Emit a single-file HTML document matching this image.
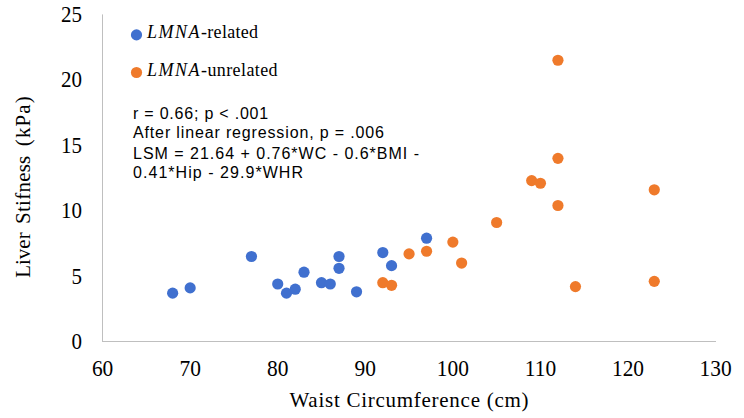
<!DOCTYPE html>
<html><head><meta charset="utf-8"><style>
html,body{margin:0;padding:0;background:#fff;}
svg{display:block;}
.serif{font-family:"Liberation Serif",serif;}
.sans{font-family:"Liberation Sans",sans-serif;}
</style></head><body>
<svg width="744" height="418" viewBox="0 0 744 418">
<rect width="744" height="418" fill="#fff"/>
<line x1="102.5" y1="14.4" x2="102.5" y2="342" stroke="#BFBFBF" stroke-width="1"/>
<line x1="102" y1="341.5" x2="716" y2="341.5" stroke="#BFBFBF" stroke-width="1"/>
<g class="serif" font-size="21" fill="#000">
<text transform="translate(82,349.15) scale(1,1.07)" text-anchor="end">0</text><text transform="translate(82,283.73) scale(1,1.07)" text-anchor="end">5</text><text transform="translate(82,218.31) scale(1,1.07)" text-anchor="end">10</text><text transform="translate(82,152.89) scale(1,1.07)" text-anchor="end">15</text><text transform="translate(82,87.47) scale(1,1.07)" text-anchor="end">20</text><text transform="translate(82,22.05) scale(1,1.07)" text-anchor="end">25</text>
<text transform="translate(102.58,375.9) scale(1.02,1.07)" text-anchor="middle">60</text><text transform="translate(190.15,375.9) scale(1.02,1.07)" text-anchor="middle">70</text><text transform="translate(277.72,375.9) scale(1.02,1.07)" text-anchor="middle">80</text><text transform="translate(365.29,375.9) scale(1.02,1.07)" text-anchor="middle">90</text><text transform="translate(452.86,375.9) scale(1.02,1.07)" text-anchor="middle">100</text><text transform="translate(540.43,375.9) scale(1.02,1.07)" text-anchor="middle">110</text><text transform="translate(628.00,375.9) scale(1.02,1.07)" text-anchor="middle">120</text><text transform="translate(715.57,375.9) scale(1.02,1.07)" text-anchor="middle">130</text>
</g>
<text class="serif" font-size="21" x="409" y="407.2" text-anchor="middle" textLength="239" lengthAdjust="spacing">Waist Circumference (cm)</text>
<g class="serif" font-size="21" transform="translate(29.5,0) rotate(-90)">
<text x="-277.8">Liver</text>
<text x="-223.9" textLength="68.2" lengthAdjust="spacing">Stifness</text>
<text x="-146.2" textLength="50" lengthAdjust="spacing">(kPa)</text>
</g>
<circle cx="136.5" cy="34.9" r="5.6" fill="#4070CF"/>
<circle cx="136.5" cy="72.5" r="5.6" fill="#EF7A2B"/>
<text class="serif" font-size="18" x="147" y="37.5" letter-spacing="0.3"><tspan font-style="italic" letter-spacing="1.5">LMNA</tspan>-related</text>
<text class="serif" font-size="18" x="147" y="75.5" letter-spacing="0.4"><tspan font-style="italic" letter-spacing="1.5">LMNA</tspan>-unrelated</text>
<g class="sans" font-size="16" fill="#000">
<text x="133" y="118.8" textLength="135.2" lengthAdjust="spacing">r = 0.66; p &lt; .001</text>
<text x="133" y="138.4" textLength="251" lengthAdjust="spacing">After linear regression, p = .006</text>
<text x="133" y="158.6" textLength="286" lengthAdjust="spacing">LSM = 21.64 + 0.76*WC - 0.6*BMI -</text>
<text x="133" y="178.2" textLength="170" lengthAdjust="spacing">0.41*Hip - 29.9*WHR</text>
</g>
<circle cx="172.64" cy="293.14" r="5.6" fill="#4070CF"/><circle cx="190.15" cy="287.91" r="5.6" fill="#4070CF"/><circle cx="251.45" cy="256.50" r="5.6" fill="#4070CF"/><circle cx="277.72" cy="283.98" r="5.6" fill="#4070CF"/><circle cx="286.48" cy="293.14" r="5.6" fill="#4070CF"/><circle cx="295.23" cy="289.21" r="5.6" fill="#4070CF"/><circle cx="303.99" cy="272.20" r="5.6" fill="#4070CF"/><circle cx="321.50" cy="282.67" r="5.6" fill="#4070CF"/><circle cx="330.26" cy="283.98" r="5.6" fill="#4070CF"/><circle cx="339.02" cy="256.50" r="5.6" fill="#4070CF"/><circle cx="339.02" cy="268.28" r="5.6" fill="#4070CF"/><circle cx="356.53" cy="291.83" r="5.6" fill="#4070CF"/><circle cx="382.80" cy="252.58" r="5.6" fill="#4070CF"/><circle cx="391.56" cy="265.66" r="5.6" fill="#4070CF"/><circle cx="426.59" cy="238.19" r="5.6" fill="#4070CF"/><circle cx="382.80" cy="282.67" r="5.6" fill="#EF7A2B"/><circle cx="391.56" cy="285.29" r="5.6" fill="#EF7A2B"/><circle cx="409.07" cy="253.89" r="5.6" fill="#EF7A2B"/><circle cx="426.59" cy="251.27" r="5.6" fill="#EF7A2B"/><circle cx="452.86" cy="242.11" r="5.6" fill="#EF7A2B"/><circle cx="461.62" cy="263.05" r="5.6" fill="#EF7A2B"/><circle cx="496.64" cy="222.49" r="5.6" fill="#EF7A2B"/><circle cx="531.67" cy="180.62" r="5.6" fill="#EF7A2B"/><circle cx="540.43" cy="183.23" r="5.6" fill="#EF7A2B"/><circle cx="557.94" cy="60.24" r="5.6" fill="#EF7A2B"/><circle cx="557.94" cy="158.37" r="5.6" fill="#EF7A2B"/><circle cx="557.94" cy="205.48" r="5.6" fill="#EF7A2B"/><circle cx="575.46" cy="286.60" r="5.6" fill="#EF7A2B"/><circle cx="654.27" cy="189.78" r="5.6" fill="#EF7A2B"/><circle cx="654.27" cy="281.36" r="5.6" fill="#EF7A2B"/>
</svg>
</body></html>
